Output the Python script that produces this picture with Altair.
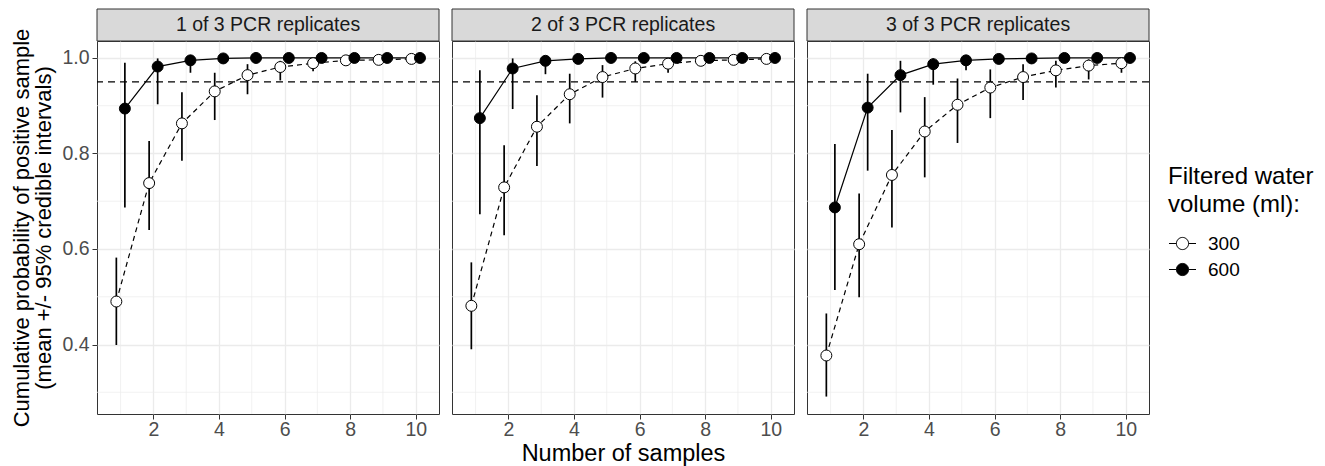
import altair as alt
import pandas as pd

panels = ["1 of 3 PCR replicates", "2 of 3 PCR replicates", "3 of 3 PCR replicates"]
volumes = ["300", "600"]
samples = [1, 2, 3, 4, 5, 6, 7, 8, 9, 10]

# panel 1
p1_300_mean = [0.490, 0.738, 0.863, 0.930, 0.964, 0.981, 0.989, 0.995, 0.996, 0.998]
p1_300_lo = [0.399, 0.640, 0.785, 0.870, 0.924, 0.953, 0.972, 0.985, 0.990, 0.995]
p1_300_hi = [0.582, 0.826, 0.928, 0.969, 0.987, 0.994, 0.998, 0.999, 1.000, 1.000]
p1_600_mean = [0.894, 0.982, 0.995, 0.999, 1.000, 1.000, 1.000, 1.000, 1.000, 1.000]
p1_600_lo = [0.687, 0.903, 0.969, 0.993, 0.998, 0.999, 1.000, 1.000, 1.000, 1.000]
p1_600_hi = [0.990, 0.999, 1.000, 1.000, 1.000, 1.000, 1.000, 1.000, 1.000, 1.000]
# panel 2
p2_300_mean = [0.481, 0.729, 0.856, 0.924, 0.960, 0.978, 0.988, 0.994, 0.996, 0.998]
p2_300_lo = [0.390, 0.629, 0.774, 0.863, 0.917, 0.950, 0.969, 0.983, 0.990, 0.994]
p2_300_hi = [0.572, 0.817, 0.922, 0.967, 0.985, 0.993, 0.997, 0.999, 1.000, 1.000]
p2_600_mean = [0.874, 0.978, 0.994, 0.998, 1.000, 1.000, 1.000, 1.000, 1.000, 1.000]
p2_600_lo = [0.673, 0.893, 0.966, 0.990, 0.997, 0.999, 1.000, 1.000, 1.000, 1.000]
p2_600_hi = [0.974, 0.999, 1.000, 1.000, 1.000, 1.000, 1.000, 1.000, 1.000, 1.000]
# panel 3
p3_300_mean = [0.377, 0.610, 0.755, 0.846, 0.902, 0.938, 0.960, 0.974, 0.984, 0.989]
p3_300_lo = [0.291, 0.499, 0.645, 0.750, 0.822, 0.874, 0.912, 0.938, 0.955, 0.969]
p3_300_hi = [0.465, 0.716, 0.849, 0.918, 0.957, 0.976, 0.987, 0.994, 0.997, 0.999]
p3_600_mean = [0.687, 0.896, 0.964, 0.987, 0.995, 0.998, 0.999, 1.000, 1.000, 1.000]
p3_600_lo = [0.514, 0.764, 0.886, 0.944, 0.974, 0.988, 0.994, 0.997, 0.999, 0.999]
p3_600_hi = [0.820, 0.967, 0.994, 0.999, 1.000, 1.000, 1.000, 1.000, 1.000, 1.000]

threshold = [0.95]
x_major = [2, 4, 6, 8, 10]
x_minor = [1, 3, 5, 7, 9]
y_major = [0.4, 0.6, 0.8, 1.0]
y_minor = [0.3, 0.5, 0.7, 0.9]

series = {
    (panels[0], "300"): (p1_300_mean, p1_300_lo, p1_300_hi),
    (panels[0], "600"): (p1_600_mean, p1_600_lo, p1_600_hi),
    (panels[1], "300"): (p2_300_mean, p2_300_lo, p2_300_hi),
    (panels[1], "600"): (p2_600_mean, p2_600_lo, p2_600_hi),
    (panels[2], "300"): (p3_300_mean, p3_300_lo, p3_300_hi),
    (panels[2], "600"): (p3_600_mean, p3_600_lo, p3_600_hi),
}
rows = []
for (pn, vol), (m, lo, hi) in series.items():
    for s, a, b, c in zip(samples, m, lo, hi):
        rows.append({"panel": pn, "volume": vol, "samples": s, "mean": a, "lo": b, "hi": c})
df = pd.DataFrame(rows)

FONT = "Liberation Sans"
W, H = 342, 373
STRIP = 32
xscale = alt.Scale(domain=[0.28, 10.71], nice=False, zero=False)
yscale = alt.Scale(domain=[0.2545, 1.0355], nice=False, zero=False)

legend_symbol = "M-1,0L-0.45,0M0.45,0L1,0M0.45,0A0.45,0.45,0,1,1,-0.45,0A0.45,0.45,0,1,1,0.45,0Z"


def make_panel(i, name):
    first = i == 0
    middle = i == 1
    xaxis = alt.Axis(
        values=x_major, grid=True, gridColor="#ebebeb", gridWidth=1.3,
        title="Number of samples" if middle else None,
        labelFontSize=19.5, labelColor="#4d4d4d", labelFont=FONT, labelPadding=1,
        tickColor="#333333", tickSize=5, tickWidth=1, domain=False,
        titleFont=FONT, titleFontSize=23.5, titleFontWeight="normal", titleColor="#000000",
        titlePadding=3,
    )
    if first:
        yaxis = alt.Axis(
            values=y_major, grid=True, gridColor="#ebebeb", gridWidth=1.3,
            title=["Cumulative probability of positive sample", "(mean +/- 95% credible intervals)"],
            labelFontSize=19.5, labelColor="#4d4d4d", labelFont=FONT, labelPadding=3,
            tickColor="#333333", tickSize=5, tickWidth=1, domain=False, format=".1f",
            titleFont=FONT, titleFontSize=22, titleFontWeight="normal", titleColor="#000000",
            titlePadding=6, titleLineHeight=22,
        )
    else:
        yaxis = alt.Axis(values=y_major, grid=True, gridColor="#ebebeb", gridWidth=1.3,
                         labels=False, ticks=False, domain=False, title=None)

    base = alt.Chart(df).transform_filter(alt.datum.panel == name).transform_calculate(
        xd="datum.samples + (datum.volume == '300' ? -0.13 : 0.13)"
    )

    gx = alt.Chart(pd.DataFrame({"v": x_minor})).mark_rule(color="#ebebeb", strokeWidth=0.7).encode(
        x=alt.X("v:Q", scale=xscale, axis=xaxis)
    )
    gy = alt.Chart(pd.DataFrame({"v": y_minor})).mark_rule(color="#ebebeb", strokeWidth=0.7).encode(
        y=alt.Y("v:Q", scale=yscale, axis=yaxis)
    )
    hline = alt.Chart(pd.DataFrame({"v": threshold})).mark_rule(
        color="#000000", strokeDash=[7, 5], strokeWidth=1.2
    ).encode(y=alt.Y("v:Q", scale=yscale))

    err = base.mark_rule(color="#000000", strokeWidth=1.7).encode(
        x=alt.X("xd:Q", scale=xscale),
        y=alt.Y("lo:Q", scale=yscale),
        y2="hi:Q",
    )
    line300 = base.transform_filter(alt.datum.volume == "300").mark_line(
        color="#000000", strokeDash=[5, 4], strokeWidth=1.2
    ).encode(x=alt.X("xd:Q", scale=xscale), y=alt.Y("mean:Q", scale=yscale))
    line600 = base.transform_filter(alt.datum.volume == "600").mark_line(
        color="#000000", strokeWidth=1.2
    ).encode(x=alt.X("xd:Q", scale=xscale), y=alt.Y("mean:Q", scale=yscale))
    pts = base.mark_point(shape="circle", filled=True, size=120, stroke="#000000",
                          strokeWidth=1, opacity=1).encode(
        x=alt.X("xd:Q", scale=xscale),
        y=alt.Y("mean:Q", scale=yscale),
        fill=alt.Fill("volume:N", scale=alt.Scale(domain=volumes, range=["#ffffff", "#000000"]),
                      legend=alt.Legend(title=["Filtered water", "volume (ml):"])),
        order=alt.Order("volume:N"),
    )

    strip_df = pd.DataFrame({"panel": [name]})
    strip = alt.Chart(strip_df).mark_rect(fill="#d9d9d9", stroke="#333333", strokeWidth=1).encode(
        x=alt.value(0), x2=alt.value(W), y=alt.value(-STRIP), y2=alt.value(0)
    )
    strip_txt = alt.Chart(strip_df).mark_text(
        font=FONT, fontSize=19.5, color="#1a1a1a", baseline="middle", align="center"
    ).encode(x=alt.value(W / 2), y=alt.value(-STRIP / 2), text="panel:N")

    return alt.layer(gx, gy, hline, err, line300, line600, pts, strip, strip_txt).properties(
        width=W, height=H
    )


chart = alt.hconcat(*[make_panel(i, n) for i, n in enumerate(panels)], spacing=9).properties(
    padding={"left": 2, "top": 0, "right": 0, "bottom": 0}
).configure_view(stroke="#333333", strokeWidth=1).configure_legend(
    orient="none", legendX=1071, legendY=124,
    titleFont=FONT, titleFontSize=24, titleFontWeight="normal", titleColor="#000000",
    titleLineHeight=28, titlePadding=12,
    labelFont=FONT, labelFontSize=19, labelColor="#000000", labelOffset=11,
    symbolType=legend_symbol, symbolSize=730, symbolStrokeColor="#000000", symbolStrokeWidth=1,
    rowPadding=1,
)

chart.save("out.html", embed_options={"renderer": "svg", "actions": False})
